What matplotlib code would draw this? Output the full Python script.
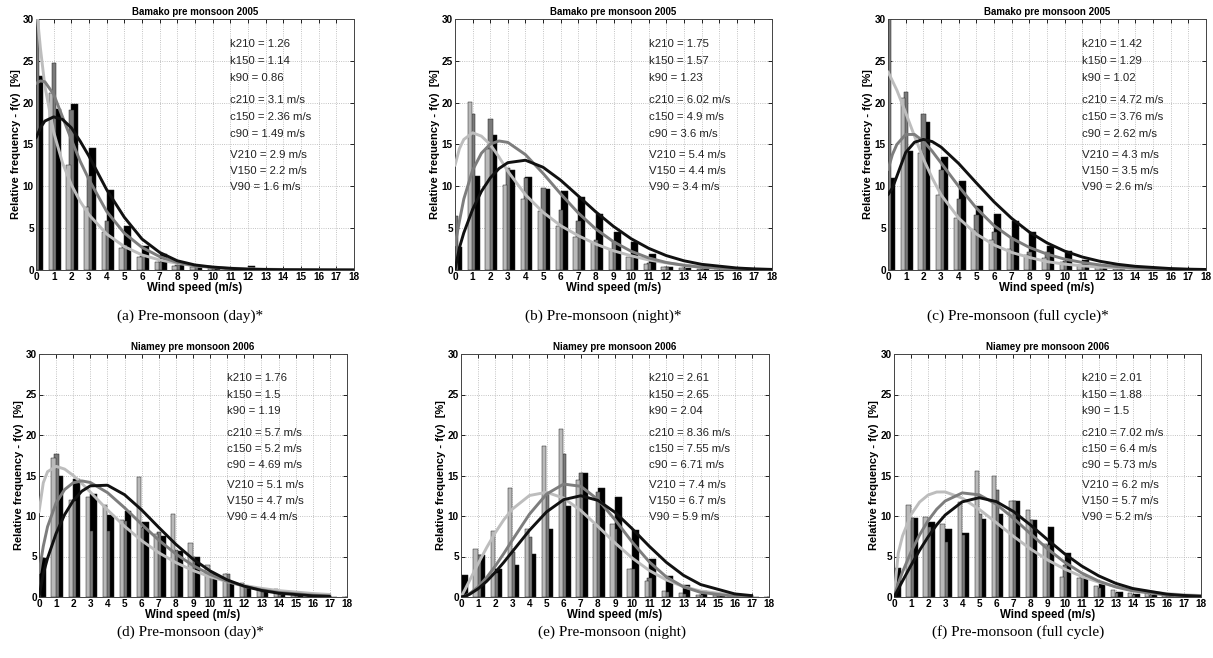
import numpy as np
import matplotlib
matplotlib.use('Agg')
import matplotlib.pyplot as plt

plt.rcParams['font.family'] = ['Liberation Sans', 'DejaVu Sans']

# Data
SPEED = list(range(19))
CURVE_SPEED = [0, 0.25, 0.5, 1, 1.5, 2, 2.5, 3, 4, 5, 6, 7, 8, 9, 10, 11, 12, 13, 14, 16, 17, 18]
nan = float('nan')

# (a) Bamako pre monsoon 2005, day
bars_a_210 = [23.2, 19.3, 19.9, 14.6, 9.6, 5.3, 2.9, 1.9, 1.0, 0.3, 0.2, 0.1, 0.5, 0.1, 0.05, 0, 0, 0, 0]
bars_a_150 = [30.5, 24.7, 19.1, 11.2, 5.8, 3.0, 1.7, 1.0, 0.6, 0.3, 0.2, 0.1, 0.1, 0.05, 0, 0, 0, 0, 0]
bars_a_90 = [30.5, 21.2, 12.6, 7.5, 4.5, 2.6, 1.5, 1.0, 0.5, 0.3, 0.2, 0.1, 0.1, 0.05, 0, 0, 0, 0, 0]
curve_a_210 = [15.8, 17.0, 17.8, 18.3, 18.0, 17.0, 15.4, 13.6, 9.6, 6.3, 3.7, 2.1, 1.1, 0.6, 0.35, 0.2, 0.1, 0.06, 0.03, 0.01, 0.005, 0]
curve_a_150 = [22.3, 22.6, 22.5, 21.0, 18.3, 15.6, 13.0, 10.8, 7.0, 4.4, 2.7, 1.6, 0.9, 0.5, 0.3, 0.15, 0.08, 0.05, 0.02, 0.01, 0.0, 0.0]
curve_a_90 = [32.0, 26.5, 22.0, 16.5, 12.8, 10.2, 8.2, 6.6, 4.3, 2.8, 1.8, 1.2, 0.8, 0.5, 0.35, 0.22, 0.15, 0.1, 0.06, 0.02, 0.015, 0.01]
params_a = ['k210 = 1.26', 'k150 = 1.14', 'k90 = 0.86', 'c210 = 3.1 m/s', 'c150 = 2.36 m/s',
            'c90 = 1.49 m/s', 'V210 = 2.9 m/s', 'V150 = 2.2 m/s', 'V90 = 1.6 m/s']

# (b) Bamako pre monsoon 2005, night
bars_b_210 = [2.8, 11.2, 16.1, 12.0, 11.1, 9.7, 9.5, 8.7, 6.7, 4.5, 3.4, 1.9, 0.4, 0.2, 0.1, 0.05, 0, 0, 0]
bars_b_150 = [6.5, 18.7, 18.0, 12.2, 11.0, 9.8, 7.2, 5.8, 3.6, 3.5, 1.6, 0.8, 0.4, 0.2, 0.1, 0, 0, 0, 0]
bars_b_90 = [21.0, 20.1, 14.5, 10.1, 8.5, 7.0, 5.3, 4.0, 3.2, 2.5, 1.5, 0.7, 0.3, 0.2, 0.1, 0, 0, 0, 0]
curve_b_210 = [0, 2.66, 4.44, 7.24, 9.40, 11.0, 12.13, 12.83, 13.12, 12.28, 10.73, 8.85, 6.94, 5.21, 3.74, 2.59, 1.72, 1.1, 0.68, 0.24, 0.13, 0.07]
curve_b_150 = [3.0, 5.82, 8.48, 11.93, 13.96, 15.05, 15.42, 15.25, 13.79, 11.55, 9.10, 6.82, 4.89, 3.38, 2.24, 1.44, 0.90, 0.55, 0.32, 0.10, 0.06, 0.03]
curve_b_90 = [12.5, 14.5, 15.6, 16.4, 16.0, 15.0, 13.5, 11.8, 9.0, 6.9, 5.3, 4.1, 3.1, 2.3, 1.7, 1.2, 0.85, 0.6, 0.4, 0.15, 0.1, 0.05]
params_b = ['k210 = 1.75', 'k150 = 1.57', 'k90 = 1.23', 'c210 = 6.02 m/s', 'c150 = 4.9 m/s',
            'c90 = 3.6 m/s', 'V210 = 5.4 m/s', 'V150 = 4.4 m/s', 'V90 = 3.4 m/s']

# (c) Bamako pre monsoon 2005, full cycle
bars_c_210 = [11.0, 14.2, 17.7, 13.5, 10.6, 7.7, 6.7, 5.9, 4.5, 2.9, 2.3, 1.2, 0.4, 0.2, 0.1, 0.05, 0.03, 0, 0]
bars_c_150 = [30.5, 21.3, 18.6, 12.0, 8.5, 6.6, 4.5, 3.8, 2.2, 2.1, 1.1, 0.6, 0.3, 0.15, 0.1, 0, 0, 0, 0]
bars_c_90 = [17.2, 20.6, 14.0, 9.0, 6.2, 4.8, 3.6, 2.5, 1.8, 1.4, 0.9, 0.5, 0.3, 0.15, 0.1, 0, 0, 0, 0]
curve_c_210 = [9.0, 9.8, 11.2, 14.04, 15.27, 15.61, 15.35, 14.70, 12.73, 10.41, 8.15, 6.17, 4.53, 3.24, 2.26, 1.55, 1.04, 0.68, 0.44, 0.17, 0.10, 0.06]
curve_c_150 = [12.0, 13.8, 15.0, 16.2, 16.2, 15.4, 14.2, 12.8, 10.0, 7.4, 5.3, 3.8, 2.7, 1.9, 1.3, 0.9, 0.6, 0.4, 0.25, 0.1, 0.06, 0.04]
curve_c_90 = [23.7, 22.6, 21.5, 18.8, 16.0, 13.3, 11.0, 9.0, 6.2, 4.3, 3.0, 2.1, 1.5, 1.0, 0.7, 0.5, 0.35, 0.25, 0.15, 0.07, 0.05, 0.03]
params_c = ['k210 = 1.42', 'k150 = 1.29', 'k90 = 1.02', 'c210 = 4.72 m/s', 'c150 = 3.76 m/s',
            'c90 = 2.62 m/s', 'V210 = 4.3 m/s', 'V150 = 3.5 m/s', 'V90 = 2.6 m/s']

# (d) Niamey pre monsoon 2006, day
bars_d_210 = [4.8, 15.0, 14.6, 12.7, 10.1, 10.6, 9.2, 7.5, 5.7, 5.0, 2.8, 1.6, 1.1, 0.6, 0.2, 0.1, 0.05, 0, 0]
bars_d_150 = [0.5, 17.7, 11.8, 8.2, 8.2, 9.4, 8.5, 8.0, 5.8, 4.9, 3.1, 2.8, 1.3, 0.6, 0.4, 0.2, 0.1, 0, 0]
bars_d_90 = [11.0, 17.2, 12.0, 12.3, 11.3, 9.5, 14.8, 7.8, 10.2, 6.7, 4.0, 2.8, 1.7, 1.0, 1.0, 0.4, 0.3, 0.2, 0]
curve_d_210 = [0, 2.86, 4.79, 7.85, 10.18, 11.89, 13.06, 13.72, 13.80, 12.63, 10.75, 8.59, 6.50, 4.68, 3.22, 2.11, 1.33, 0.81, 0.47, 0.14, 0.07, nan]
curve_d_150 = [3.0, 6.26, 8.68, 11.63, 13.27, 14.10, 14.33, 14.14, 12.89, 11.02, 8.97, 7.02, 5.31, 3.89, 2.78, 1.93, 1.32, 0.88, 0.57, 0.23, 0.14, nan]
curve_d_90 = [10.5, 14.10, 15.47, 16.13, 15.79, 15.01, 14.03, 12.95, 10.76, 8.73, 6.96, 5.47, 4.25, 3.27, 2.50, 1.89, 1.42, 1.07, 0.79, 0.43, 0.31, nan]
params_d = ['k210 = 1.76', 'k150 = 1.5', 'k90 = 1.19', 'c210 = 5.7 m/s', 'c150 = 5.2 m/s',
            'c90 = 4.69 m/s', 'V210 = 5.1 m/s', 'V150 = 4.7 m/s', 'V90 = 4.4 m/s']

# (e) Niamey pre monsoon 2006, night
bars_e_210 = [2.7, 5.2, 3.4, 4.0, 5.3, 8.4, 11.2, 15.3, 13.5, 12.4, 8.3, 4.7, 2.6, 1.5, 0.7, 0.3, 0.1, 0.05, 0]
bars_e_150 = [0.5, 5.2, 3.0, 5.5, 7.4, 12.8, 17.6, 15.3, 13.0, 8.4, 3.5, 2.3, 0.6, 0.4, 0.2, 0.1, 0.05, 0, 0]
bars_e_90 = [0.5, 5.9, 8.1, 13.5, 8.4, 18.6, 20.8, 14.5, 9.0, 9.0, 3.5, 2.0, 0.8, 0.5, 0.3, 0.2, 0.1, 0.3, 0]
curve_e_210 = [0, 0.11, 0.33, 1.02, 1.94, 3.05, 4.28, 5.60, 8.23, 10.51, 12.02, 12.50, 11.93, 10.46, 8.44, 6.27, 4.28, 2.68, 1.54, 0.38, 0.17, nan]
curve_e_150 = [0, 0.13, 0.40, 1.24, 2.41, 3.81, 5.37, 7.02, 10.22, 12.71, 13.94, 13.67, 12.04, 9.54, 6.79, 4.34, 2.48, 1.26, 0.57, 0.08, 0.02, nan]
curve_e_90 = [0, 0.99, 2.03, 4.11, 6.10, 7.93, 9.53, 10.85, 12.53, 12.93, 12.21, 10.68, 8.72, 6.68, 4.82, 3.28, 2.11, 1.28, 0.74, 0.21, 0.10, nan]
params_e = ['k210 = 2.61', 'k150 = 2.65', 'k90 = 2.04', 'c210 = 8.36 m/s', 'c150 = 7.55 m/s',
            'c90 = 6.71 m/s', 'V210 = 7.4 m/s', 'V150 = 6.7 m/s', 'V90 = 5.9 m/s']

# (f) Niamey pre monsoon 2006, full cycle
bars_f_210 = [3.6, 9.7, 9.3, 8.4, 7.9, 9.6, 10.3, 11.8, 9.5, 8.7, 5.4, 2.6, 1.6, 0.6, 0.4, 0.2, 0.1, 0.05, 0]
bars_f_150 = [1.0, 9.7, 8.6, 6.8, 7.6, 10.3, 13.2, 11.8, 9.5, 6.4, 4.0, 2.6, 1.1, 0.5, 0.3, 0.2, 0.1, 0.05, 0]
bars_f_90 = [6.7, 11.4, 9.9, 9.0, 11.7, 15.6, 15.0, 11.8, 10.8, 6.5, 2.5, 2.3, 1.3, 0.9, 0.5, 0.5, 0.2, 0.1, 0]
curve_f_210 = [0, 0.98, 1.98, 3.92, 5.76, 7.43, 8.90, 10.12, 11.75, 12.26, 11.78, 10.56, 8.90, 7.08, 5.34, 3.83, 2.61, 1.69, 1.05, 0.35, 0.19, 0.10]
curve_f_150 = [0, 1.69, 3.09, 5.56, 7.67, 9.43, 10.83, 11.85, 12.85, 12.61, 11.45, 9.73, 7.81, 5.94, 4.30, 2.97, 1.96, 1.24, 0.75, 0.24, 0.13, 0.07]
curve_f_90 = [0, 5.42, 7.54, 10.17, 11.72, 12.59, 12.96, 12.97, 12.21, 10.82, 9.18, 7.50, 5.94, 4.58, 3.45, 2.54, 1.83, 1.29, 0.90, 0.41, 0.27, 0.18]
params_f = ['k210 = 2.01', 'k150 = 1.88', 'k90 = 1.5', 'c210 = 7.02 m/s', 'c150 = 6.4 m/s',
            'c90 = 5.73 m/s', 'V210 = 6.2 m/s', 'V150 = 5.7 m/s', 'V90 = 5.2 m/s']

titles = ['Bamako pre monsoon 2005'] * 3 + ['Niamey pre monsoon 2006'] * 3
captions = ['(a) Pre-monsoon (day)*', '(b) Pre-monsoon (night)*', '(c) Pre-monsoon (full cycle)*',
            '(d) Pre-monsoon (day)*', '(e) Pre-monsoon (night)', '(f) Pre-monsoon (full cycle)']

panels = [
    ([bars_a_210, bars_a_150, bars_a_90], [curve_a_210, curve_a_150, curve_a_90], params_a),
    ([bars_b_210, bars_b_150, bars_b_90], [curve_b_210, curve_b_150, curve_b_90], params_b),
    ([bars_c_210, bars_c_150, bars_c_90], [curve_c_210, curve_c_150, curve_c_90], params_c),
    ([bars_d_210, bars_d_150, bars_d_90], [curve_d_210, curve_d_150, curve_d_90], params_d),
    ([bars_e_210, bars_e_150, bars_e_90], [curve_e_210, curve_e_150, curve_e_90], params_e),
    ([bars_f_210, bars_f_150, bars_f_90], [curve_f_210, curve_f_150, curve_f_90], params_f),
]

# Layout (pixels of the 1213x658 canvas): left, right, top, bottom
W, H = 1213, 658
boxes = [(36, 354, 19, 270), (455, 772, 19, 270), (888, 1206, 19, 270),
         (39, 347, 354, 597), (461, 769, 354, 597), (894, 1201, 354, 597)]
caption_pos = [(190, 316), (603, 316), (1018, 316), (190, 632), (612, 632), (1018, 632)]

bar_colors = ['#000000', '#7a7a7a', '#b9b9b9']
bar_shift = [0.2, 0.02, -0.15]
bar_width = [0.4, 0.25, 0.25]
curve_colors = ['#111111', '#7d7d7d', '#bdbdbd']
text_y = [27.0, 25.0, 23.0, 20.3, 18.3, 16.3, 13.8, 11.8, 9.9]

fig = plt.figure(figsize=(W / 100, H / 100), dpi=100)

for (bars, curves, params), box, title, cap, cpos in zip(panels, boxes, titles, captions, caption_pos):
    l, r, t, b = box
    ax = fig.add_axes([l / W, 1 - b / H, (r - l) / W, (b - t) / H])

    # Bars: 210 m behind, then 150 m and 90 m
    x = np.array(SPEED)
    for k, vals in enumerate(bars):
        ax.bar(x + bar_shift[k], vals, width=bar_width[k], color=bar_colors[k],
               edgecolor='#222222', linewidth=0.35, zorder=2 + 0.1 * k)

    # Weibull fits
    for k, ys in enumerate(curves):
        ax.plot(CURVE_SPEED, ys, color=curve_colors[k], lw=2.1, zorder=3 + 0.1 * (2 - k),
                solid_capstyle='round', solid_joinstyle='round')

    ax.set_xlim(0, 18)
    ax.set_ylim(0, 30)
    ax.set_xticks(range(19))
    ax.set_yticks(range(0, 31, 5))
    ax.tick_params(direction='in', length=3, width=0.6, labelsize=7.2, pad=1.5,
                   top=True, right=True)
    for lab in ax.get_xticklabels() + ax.get_yticklabels():
        lab.set_fontweight('bold')
    ax.grid(True, linestyle=':', color='#b0b0b0', linewidth=0.6, zorder=0)
    ax.set_axisbelow(True)
    for s in ax.spines.values():
        s.set_linewidth(0.7)
        s.set_color('#444444')

    ax.set_title(title, fontsize=7, fontweight='bold', pad=3)
    ax.set_xlabel('Wind speed (m/s)', fontsize=8.3, fontweight='bold', labelpad=0)
    ax.set_ylabel('Relative frequency - f(v)  [%]', fontsize=8, fontweight='bold', labelpad=1)

    for s, yy in zip(params, text_y):
        ax.text(11.0, yy, s, fontsize=8.2, va='center', ha='left', color='#222222', zorder=5)

    fig.text(cpos[0] / W, 1 - cpos[1] / H, cap, ha='center', va='center',
             fontsize=11, family='Liberation Serif')

fig.savefig('out.png', dpi=100)
